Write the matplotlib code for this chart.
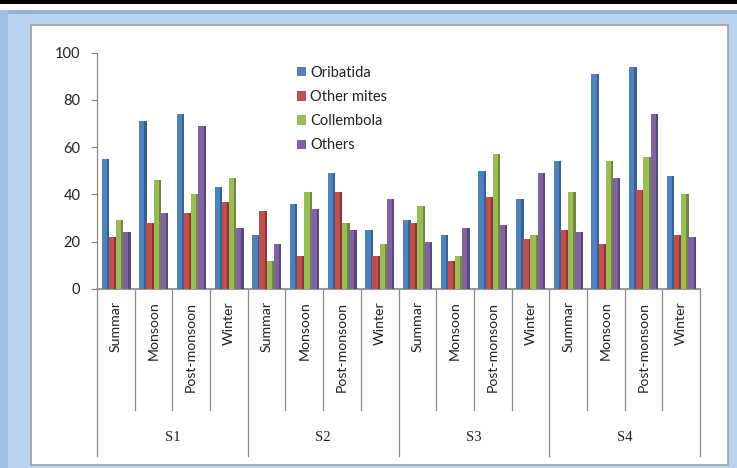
import matplotlib.pyplot as plt
import numpy as np
from matplotlib.patches import Rectangle
from matplotlib.transforms import blended_transform_factory

plt.rcParams['font.family'] = ['Lato', 'DejaVu Sans']

# 계절별 / 지점별 토양 미소절지동물 개체수
sites = ['S1', 'S2', 'S3', 'S4']
seasons = ['Summar', 'Monsoon', 'Post-monsoon', 'Winter']

oribatida   = [55, 71, 74, 43,  23, 36, 49, 25,  29, 23, 50, 38,  54, 91, 94, 48]
other_mites = [22, 28, 32, 37,  33, 14, 41, 14,  28, 12, 39, 21,  25, 19, 42, 23]
collembola  = [29, 46, 40, 47,  12, 41, 28, 19,  35, 14, 57, 23,  41, 54, 56, 40]
others      = [24, 32, 69, 26,  19, 34, 25, 38,  20, 26, 27, 49,  24, 47, 74, 22]

series = [('Oribatida', oribatida, '#4f81bd', '#36608f'),
          ('Other mites', other_mites, '#c0504d', '#8e3533'),
          ('Collembola', collembola, '#9bbb59', '#70893c'),
          ('Others', others, '#8064a2', '#5b4678')]

W, H = 737, 468
fig = plt.figure(figsize=(W / 100, H / 100), dpi=100, facecolor='white')

# 바깥 파란 테두리와 안쪽 흰 패널
def px_rect(x0, y0, x1, y1, **kw):
    fig.patches.append(Rectangle((x0 / W, 1 - y1 / H), (x1 - x0) / W, (y1 - y0) / H,
                                 transform=fig.transFigure, zorder=-5, **kw))

px_rect(0, 0, W, 4, facecolor='black', edgecolor='none')
px_rect(0, 10, W, H, facecolor='#b8d3ef', edgecolor='none')
px_rect(0, 10, W, 14, facecolor='#8eb2dc', edgecolor='none')
px_rect(0, 10, 8, H, facecolor='#9fc0e6', edgecolor='none')
px_rect(31, 25, 728, 465, facecolor='white', edgecolor='#a0a0a0', linewidth=1.2)

ax = fig.add_axes([97 / W, 1 - 289 / H, (700 - 97) / W, (289 - 52.7) / H])
ax.set_facecolor('none')
ax.set_zorder(2)

x = np.arange(len(oribatida))
width = 0.19
side = 0.05
for i, (name, vals, col, dark) in enumerate(series):
    pos = x - 1.5 * width + i * width - 0.02
    ax.bar(pos, vals, width=width - side + 0.01, color=col, align='center',
           label=name, zorder=3, linewidth=0)
    ax.bar(pos + (width - side) / 2 + side / 2, vals, width=side + 0.01, color=dark,
           zorder=3, linewidth=0)

ax.set_xlim(-0.5, len(x) - 0.5)
ax.set_ylim(0, 100)
ax.set_yticks(range(0, 101, 20))
ax.tick_params(axis='y', length=4, color='#808080', labelsize=10.5, labelcolor='#222222', pad=8)

ax.set_xticks(x)
ax.set_xticklabels(seasons * len(sites), rotation=90, fontsize=10.2, color='#222222')
ax.tick_params(axis='x', length=0, pad=9)

for s in ['top', 'right']:
    ax.spines[s].set_visible(False)
ax.spines['left'].set_color('#808080')
ax.spines['bottom'].set_color('#9a9a9a')
ax.spines['bottom'].set_linewidth(1.5)

# 아래쪽 구분선과 지점 라벨
tr = blended_transform_factory(ax.transData, ax.transAxes)
for k in range(len(x) + 1):
    low = -0.707 if k % 4 == 0 else -0.512
    ax.plot([k - 0.5, k - 0.5], [0, low], color='#8a8a8a', lw=0.9,
            transform=tr, clip_on=False)
for j, s in enumerate(sites):
    ax.text(j * 4 + 1.5, -0.627, s, transform=tr, ha='center', va='center',
            fontsize=10.5, color='#222222', family=['Liberation Serif', 'DejaVu Serif'])

handles, labels = ax.get_legend_handles_labels()
ax.legend(handles, labels, loc='upper left', bbox_to_anchor=(0.31, 1.0),
          frameon=False, fontsize=10.5, handlelength=0.6, handleheight=0.6,
          handletextpad=0.3, labelspacing=0.7, labelcolor='#222222')

fig.savefig('out.png', dpi=100, facecolor=fig.get_facecolor())
